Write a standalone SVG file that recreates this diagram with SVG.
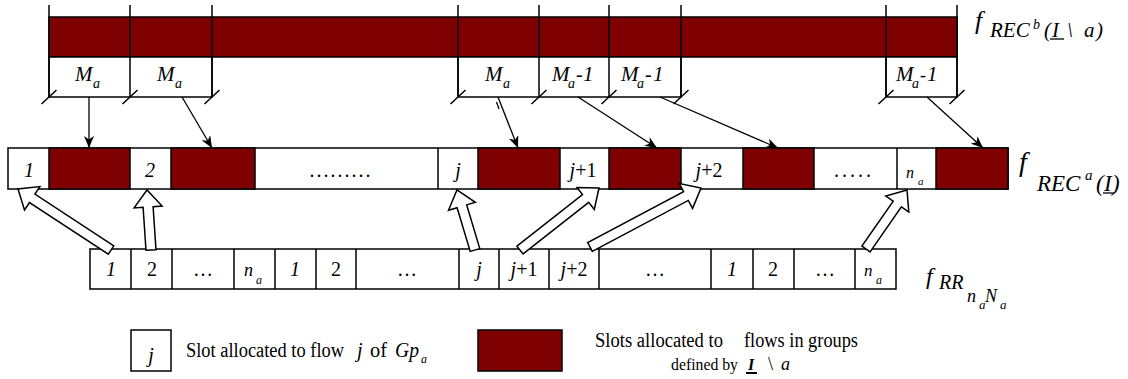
<svg xmlns="http://www.w3.org/2000/svg" width="1128" height="379" viewBox="0 0 1128 379">
<style>
text{font-family:"Liberation Serif","Times New Roman",serif;fill:#000}
.it{font-style:italic}
.c{font-size:20px}
.m{font-size:21px;font-style:italic}
.s{font-size:14px;font-style:italic}
.red{fill:#7f0000;stroke:#000;stroke-width:1.5}
.wh{fill:#fff;stroke:#000;stroke-width:1.5}
.ln{stroke:#000;stroke-width:1.5;fill:none}
.thin{stroke:#000;stroke-width:1.3;fill:none}
.blk{fill:#fff;stroke:#000;stroke-width:1.5;stroke-linejoin:miter}
.lg{font-size:20px}
</style>
<defs>
<marker id="ah" viewBox="0 0 12 10" refX="12" refY="5" markerWidth="12" markerHeight="10" markerUnits="userSpaceOnUse" orient="auto">
<path d="M0,0 L12,5 L0,10 L3.5,5 z" fill="#000"/>
</marker>
</defs>

<g id="top-row">
<rect class="red" x="49" y="17" width="908" height="40"/>
<rect class="wh" x="49" y="57" width="163" height="40"/>
<rect class="wh" x="458" y="57" width="223" height="40"/>
<rect class="wh" x="886" y="57" width="71" height="40"/>
<path class="ln" d="M49,5V97M130,5V97M212,5V97M458,5V97M539,5V97M609,5V97M681,5V97M886,5V97M957,5V97"/>
<path class="ln" d="M41.5,104L56.5,90M122.5,104L137.5,90M204.5,104L219.5,90M450.5,104L465.5,90M531.5,104L546.5,90M601.5,104L616.5,90M673.5,104L688.5,90M878.5,104L893.5,90M949.5,104L964.5,90"/>
<text y="81"><tspan class="m" x="75">M</tspan><tspan class="s" x="93" y="88">a</tspan></text>
<text y="81"><tspan class="m" x="157">M</tspan><tspan class="s" x="175" y="88">a</tspan></text>
<text y="81"><tspan class="m" x="485">M</tspan><tspan class="s" x="503" y="88">a</tspan></text>
<text y="81"><tspan class="m" x="552">M</tspan><tspan class="s" x="568" y="88">a</tspan><tspan x="576" y="81" font-size="20">-</tspan><tspan class="m" x="583" y="81">1</tspan></text>
<text y="81"><tspan class="m" x="621">M</tspan><tspan class="s" x="637" y="88">a</tspan><tspan x="645" y="81" font-size="20">-</tspan><tspan class="m" x="653" y="81">1</tspan></text>
<text y="81"><tspan class="m" x="896" font-size="18">M</tspan><tspan class="s" x="912" y="88" font-size="12">a</tspan><tspan x="920" y="81" font-size="18">-</tspan><tspan class="m" x="927" y="81" font-size="18">1</tspan></text>
<text class="it" x="975" y="29" font-size="26">f</text>
<text class="it" y="37" font-size="21"><tspan x="990">REC</tspan><tspan x="1033" y="29" font-size="14">b</tspan><tspan x="1044" y="37">(</tspan><tspan x="1052">I</tspan><tspan x="1067">\</tspan><tspan x="1084">a</tspan><tspan x="1096">)</tspan></text>
<line class="thin" x1="1050" y1="39" x2="1064" y2="39"/>
</g>

<g id="middle-row">
<rect class="wh" x="8" y="148" width="1000" height="41"/>
<rect class="red" x="49" y="148" width="81" height="41"/>
<rect class="red" x="171" y="148" width="84" height="41"/>
<rect class="red" x="478" y="148" width="82" height="41"/>
<rect class="red" x="609" y="148" width="72" height="41"/>
<rect class="red" x="743" y="148" width="71" height="41"/>
<rect class="red" x="936" y="148" width="72" height="41"/>
<path class="ln" d="M438,148V189M897,148V189"/>
<text class="c it" x="29" y="177" text-anchor="middle">1</text>
<text class="c it" x="150" y="177" text-anchor="middle">2</text>
<text class="c" x="341" y="177" text-anchor="middle" letter-spacing="2">.........</text>
<text class="c it" x="458" y="177" text-anchor="middle">j</text>
<text class="c" x="583" y="177" text-anchor="middle"><tspan class="it">j</tspan>+1</text>
<text class="c" x="709" y="177" text-anchor="middle"><tspan class="it">j</tspan>+2</text>
<text class="c" x="854" y="177" text-anchor="middle" letter-spacing="3">.....</text>
<text y="178"><tspan class="it" x="906" font-size="16">n</tspan><tspan class="it" x="918" y="185" font-size="11">a</tspan></text>
<text class="it" x="1019" y="171" font-size="28">f</text>
<text class="it" y="191" font-size="23"><tspan x="1037">REC</tspan><tspan x="1085" y="180" font-size="15">a</tspan><tspan x="1096" y="191">(</tspan><tspan x="1104">I</tspan><tspan x="1112">)</tspan></text>
<line class="thin" x1="1103" y1="193" x2="1114" y2="193"/>
</g>

<g id="bottom-row">
<rect class="wh" x="90" y="249" width="806" height="40"/>
<path class="ln" d="M131,249V289M172,249V289M234,249V289M275,249V289M316,249V289M356,249V289M459,249V289M499,249V289M549,249V289M599,249V289M711,249V289M753,249V289M794,249V289M855,249V289"/>
<text class="c it" x="111" y="276" text-anchor="middle">1</text>
<text class="c" x="152" y="276" text-anchor="middle">2</text>
<text class="c" x="203" y="276" text-anchor="middle">…</text>
<text y="276"><tspan class="it" x="244" font-size="18">n</tspan><tspan class="it" x="256" y="284" font-size="12">a</tspan></text>
<text class="c it" x="295" y="276" text-anchor="middle">1</text>
<text class="c" x="336" y="276" text-anchor="middle">2</text>
<text class="c" x="407" y="276" text-anchor="middle">…</text>
<text class="c it" x="479" y="276" text-anchor="middle">j</text>
<text class="c" x="524" y="276" text-anchor="middle"><tspan class="it">j</tspan>+1</text>
<text class="c" x="574" y="276" text-anchor="middle"><tspan class="it">j</tspan>+2</text>
<text class="c" x="655" y="276" text-anchor="middle">…</text>
<text class="c it" x="732" y="276" text-anchor="middle">1</text>
<text class="c" x="773" y="276" text-anchor="middle">2</text>
<text class="c" x="825" y="276" text-anchor="middle">…</text>
<text y="276"><tspan class="it" x="864" font-size="17">n</tspan><tspan class="it" x="876" y="284" font-size="12">a</tspan></text>
<text class="it" x="926" y="284" font-size="24">f</text>
<text class="it" x="939" y="289" font-size="20">RR</text>
<text class="it" y="302" font-size="18"><tspan x="967">n</tspan><tspan x="979" y="309" font-size="13">a</tspan><tspan x="985" y="302">N</tspan><tspan x="1000" y="309" font-size="13">a</tspan></text>
</g>

<g id="connectors">
<line class="thin" x1="89" y1="97" x2="89" y2="148" marker-end="url(#ah)"/>
<line class="thin" x1="182" y1="97" x2="212" y2="148" marker-end="url(#ah)"/>
<line class="thin" x1="498" y1="97" x2="518" y2="148" marker-end="url(#ah)"/>
<line class="thin" x1="496.5" y1="102" x2="499" y2="109"/>
<line class="thin" x1="578" y1="97" x2="657" y2="148" marker-end="url(#ah)"/>
<line class="thin" x1="660" y1="97" x2="778" y2="148" marker-end="url(#ah)"/>
<line class="thin" x1="927" y1="97" x2="983" y2="148" marker-end="url(#ah)"/>
<polygon class="blk" points="113.8,245.8 34.9,194.1 39.9,186.6 18,189 24.5,210 29.5,202.5 108.3,254.2"/>
<polygon class="blk" points="156,249.7 153.1,206.7 162.1,206.1 147,190 134.1,207.9 143.1,207.3 146,250.3"/>
<polygon class="blk" points="479.8,248.6 466.7,204.9 475.3,202.3 457,190 448.5,210.3 457.1,207.7 470.2,251.4"/>
<polygon class="blk" points="523.1,253.9 588.7,202.4 594.3,209.5 599,188 577,187.5 582.5,194.6 516.9,246.1"/>
<polygon class="blk" points="592.3,251.4 688.3,200.4 692.6,208.4 701,188 679.4,183.6 683.6,191.6 587.7,242.6"/>
<polygon class="blk" points="870.1,251.9 901.4,206.8 908.8,212 907,190 885.8,196 893.2,201.1 861.9,246.1"/>
</g>

<g id="legend">
<rect class="wh" x="131" y="330" width="40" height="41"/>
<text class="lg it" x="151" y="362" text-anchor="middle">j</text>
<text class="lg" x="186" y="357" textLength="158" lengthAdjust="spacingAndGlyphs">Slot allocated to flow</text>
<text class="lg it" x="357" y="357">j</text>
<text class="lg" x="370" y="357" textLength="17" lengthAdjust="spacingAndGlyphs">of</text>
<text class="lg it" x="395" y="357" textLength="24" lengthAdjust="spacingAndGlyphs">Gp</text>
<text class="it" x="421" y="363" font-size="12">a</text>
<rect class="red" x="478" y="330" width="84" height="41"/>
<text class="lg" x="595" y="347" textLength="128" lengthAdjust="spacingAndGlyphs">Slots allocated to</text>
<text class="lg" x="744" y="347" textLength="114" lengthAdjust="spacingAndGlyphs">flows in groups</text>
<text x="671" y="370" font-size="17" textLength="67" lengthAdjust="spacingAndGlyphs">defined by</text>
<text class="it" x="748" y="370" font-size="16" font-weight="bold">I</text>
<line x1="746" y1="373" x2="757" y2="373" stroke="#000" stroke-width="2"/>
<text x="768" y="370" font-size="18">\</text>
<text class="it" x="781" y="370" font-size="18">a</text>
</g>
</svg>
